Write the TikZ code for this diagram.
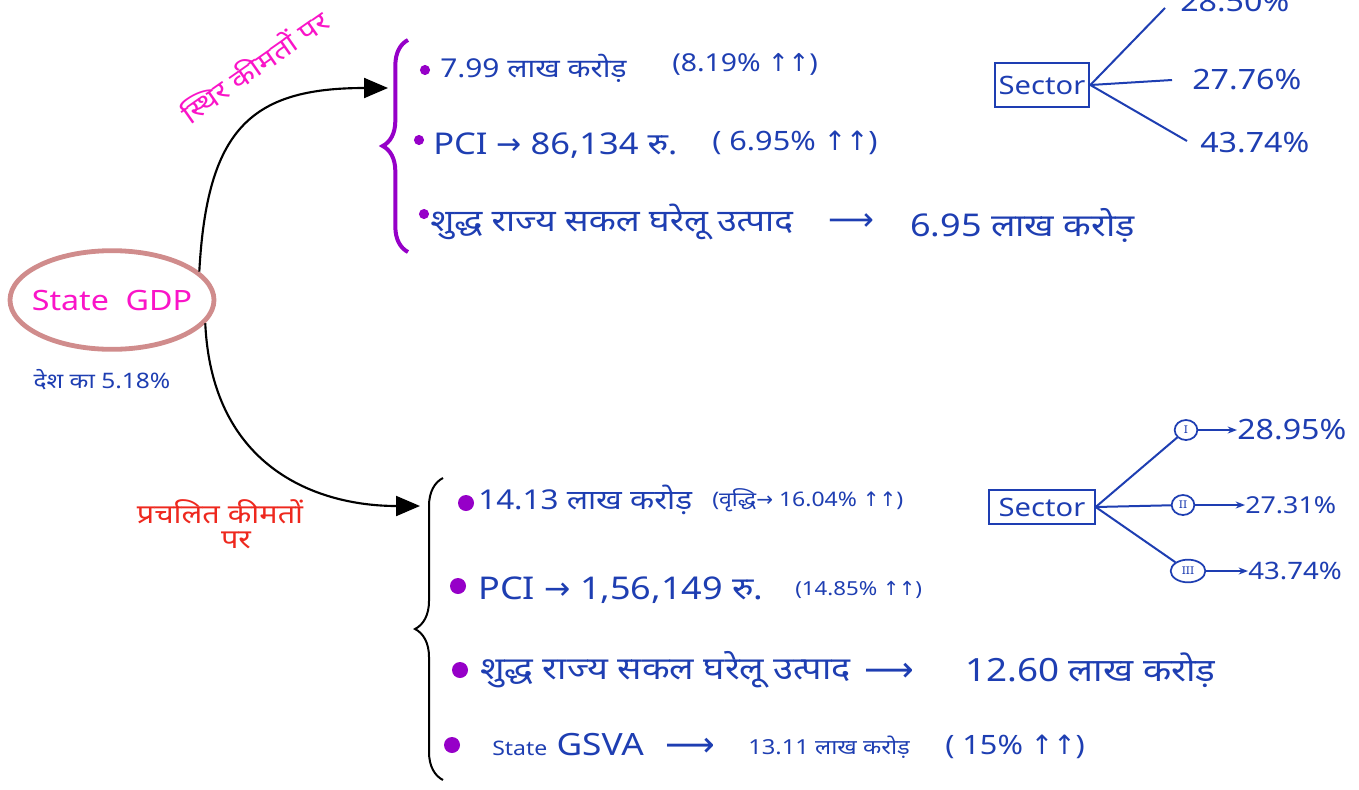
\documentclass[tikz,border=0pt]{standalone}
\usepackage{fontspec}
\setmainfont{Noto Sans}[FakeStretch=1.15]
\newfontfamily\dev[Script=Devanagari,FakeStretch=1.15]{Noto Sans}
\newfontfamily\sym{DejaVu Sans}
\usetikzlibrary{arrows.meta,decorations.pathreplacing,shapes.geometric}
\definecolor{hblue}{RGB}{30,62,178}
\definecolor{hmag}{RGB}{250,20,200}
\definecolor{hred}{RGB}{238,40,30}
\definecolor{hpurp}{RGB}{150,0,200}
\definecolor{hell}{RGB}{208,140,140}
\newcommand{\uu}{{\sym ↑↑}}
\newcommand{\ra}{{\sym →}}
\newcommand{\lra}{{\sym ⟶}}
\newcommand{\fs}[1]{\fontsize{#1}{#1}\selectfont}
\tikzset{
  txt/.style={anchor=west, inner sep=0pt, text=hblue, font=\dev\fs{22pt}},
  small/.style={txt, font=\dev\fs{15pt}},
  conn/.style={draw=black, line width=1.6pt, -{Triangle[length=18pt,width=15pt]}},
  bul/.style={fill=hpurp},
  secbox/.style={draw=hblue, line width=1.5pt, text=hblue, font=\fs{19pt}, inner sep=0pt},
  secline/.style={draw=hblue, line width=1.5pt},
  rom/.style={ellipse, draw=hblue, line width=1.3pt, text=hblue, font=\fs{8pt}, inner sep=0pt},
  val/.style={anchor=west, inner sep=0pt, text=hblue, font=\fs{21pt}},
}
\begin{document}
\begin{tikzpicture}[x=0.75pt,y=-0.75pt]
\useasboundingbox (0,0) rectangle (1359,789);
\fill[white] (0,0) rectangle (1359,789);

% central node
\node[ellipse, draw=hell, line width=3.6pt, minimum width=153pt, minimum height=74pt,
      text=hmag, font=\fs{21pt}, inner sep=0pt] (gdp) at (112,300) {\makebox[60pt][c]{State\ \ GDP}};
\node[txt, anchor=center, font=\dev\fs{16pt}] (share) at (102,380) {देश का 5.18\%};

% arrows
\coordinate (t1) at (388,88);
\coordinate (t2) at (420,506);
\draw[conn] (gdp.18) .. controls (207,130) and (250,88) .. (t1);
\draw[conn] (gdp.-14) .. controls (212,470) and (320,506) .. (t2);

\node[text=hmag, font=\dev\fs{20pt}, rotate=35, inner sep=0pt] (lbl1) at (254,66) {स्थिर कीमतों पर};
\node[text=hred, font=\dev\fs{20pt}, inner sep=0pt, align=center] (lbl2) at (220,524) {प्रचलित कीमतों\\[-1pt]\hspace*{1.2em}पर};

% braces
\draw[hpurp, line width=3pt, decorate, decoration={brace, amplitude=19pt}] (408,252) -- (408,40);
\draw[black, line width=1.5pt, decorate, decoration={brace, amplitude=21pt}] (443,780) -- (443,478);

% top items
\fill[bul] (425,70) circle[radius=3.8pt];
\node[txt, font=\dev\fs{19.5pt}] (a1) at (440,68) {7.99 लाख करोड़};
\node[txt, font=\dev\fs{18.5pt}] (a1b) at (672,64) {(8.19\% \uu)};
\fill[bul] (419,140) circle[radius=3.8pt];
\node[txt, font=\dev\fs{22.5pt}] (a2) at (433,146) {PCI \ra\ 86,134 रु.};
\node[txt, font=\dev\fs{20pt}] (a2b) at (712,143) {( 6.95\% \uu)};
\fill[bul] (424,214) circle[radius=3.8pt];
\node[txt, font=\dev\fs{23pt}] (a3) at (430,222) {शुद्ध राज्य सकल घरेलू उत्पाद};
\node[txt, font=\fs{24pt}] (a3r) at (828,222) {\lra};
\node[txt, font=\dev\fs{23.5pt}] (a3b) at (910,225) {6.95 लाख करोड़};

% bottom items
\fill[bul] (466,503) circle[radius=6pt];
\node[txt, font=\dev\fs{20.5pt}] (b1) at (478,500) {14.13 लाख करोड़};
\node[small] (b1b) at (712,500) {(वृद्धि\ra\ 16.04\% \uu)};
\fill[bul] (458,586) circle[radius=6pt];
\node[txt, font=\dev\fs{23.5pt}] (b2) at (478,590) {PCI \ra\ 1,56,149 रु.};
\node[small, font=\dev\fs{14.5pt}] (b2b) at (795,590) {(14.85\% \uu)};
\fill[bul] (460,670) circle[radius=6pt];
\node[txt, font=\dev\fs{23.5pt}] (b3) at (480,670) {शुद्ध राज्य सकल घरेलू उत्पाद};
\node[txt, font=\fs{26pt}] (b3r) at (864,672) {\lra};
\node[txt, font=\dev\fs{24pt}] (b3b) at (965,670) {12.60 लाख करोड़};
\fill[bul] (452,745) circle[radius=6pt];
\node[txt, font=\dev\fs{23pt}] (b4) at (492,745) {{\fs{15pt}State} GSVA};
\node[txt, font=\fs{26pt}] (b4r) at (665,747) {\lra};
\node[small, font=\dev\fs{15.5pt}] (b4b) at (748,747) {13.11 लाख करोड़};
\node[txt, font=\fs{20pt}] (b4c) at (945,747) {( 15\% \uu)};

% sector top
\node[secbox, minimum width=71pt, minimum height=33pt] (s1) at (1042,85) {Sector};
\coordinate (e1) at (1165,8);
\coordinate (e2) at (1172,80);
\coordinate (e3) at (1187,141);
\draw[secline] (s1.east) -- (e1);
\draw[secline] (s1.east) -- (e2);
\draw[secline] (s1.east) -- (e3);
\node[val] (p1) at (1180,2) {28.50\%};
\node[val] (p2) at (1192,80) {27.76\%};
\node[val] (p3) at (1200,143) {43.74\%};

% sector bottom
\node[secbox, minimum width=79pt, minimum height=26pt] (s2) at (1042,507) {Sector};
\node[rom, minimum width=17pt, minimum height=15pt] (c1) at (1186,430) {I};
\node[rom, minimum width=17pt, minimum height=15pt] (c2) at (1183,505) {II};
\node[rom, minimum width=26pt, minimum height=17pt] (c3) at (1188,571) {III};
\draw[secline] (s2.east) -- (c1);
\draw[secline] (s2.east) -- (c2);
\draw[secline] (s2.east) -- (c3);
\node[val] (q1) at (1237,430) {28.95\%};
\node[val, font=\fs{17.5pt}] (q2) at (1245,505) {27.31\%};
\node[val, font=\fs{18pt}] (q3) at (1248,571) {43.74\%};
\draw[secline, -{Stealth[length=7pt]}] (c1) -- (q1);
\draw[secline, -{Stealth[length=7pt]}] (c2) -- (q2);
\draw[secline, -{Stealth[length=7pt]}] (c3) -- (q3);
\end{tikzpicture}
\end{document}
